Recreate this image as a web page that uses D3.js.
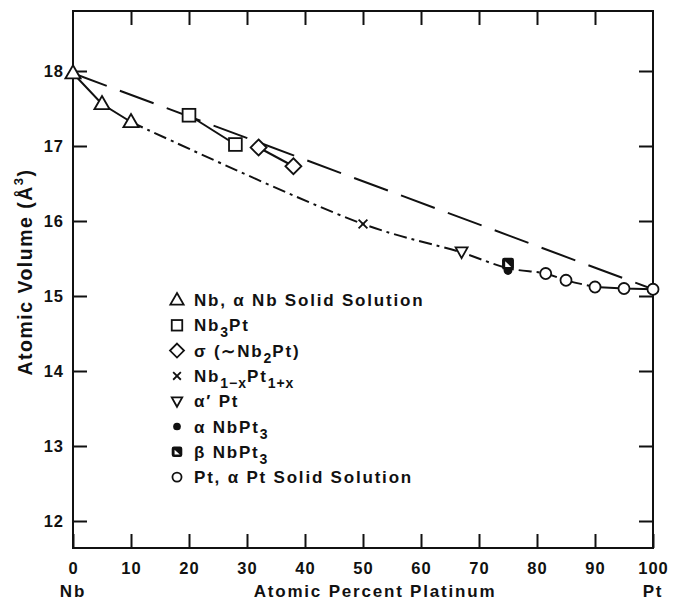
<!DOCTYPE html>
<html>
<head>
<meta charset="utf-8">
<script src="https://cdn.jsdelivr.net/npm/d3@7"></script>
<style>
  body { margin: 0; background: #fff; }
  svg { font-family: "Liberation Sans", Arial, sans-serif; font-weight: bold; }
</style>
</head>
<body>
<svg id="chart" width="682" height="606"></svg>
<script>
// data (x = at.% Pt, y = atomic volume in Å^3)
const nbSolid = [[0, 17.97], [5, 17.56], [10, 17.32]];
const nb3Pt = [[20, 17.41], [28, 17.02]];
const sigma = [[32, 16.98], [38, 16.73]];
const nb1xPt = [[50, 15.96]];
const alphaPrimePt = [[67, 15.59]];
const alphaNbPt3 = [[75, 15.34]];
const betaNbPt3 = [[75, 15.43]];
const ptSolid = [[81.5, 15.3], [85, 15.21], [90, 15.12], [95, 15.1], [100, 15.09]];

// curves drawn through the points
const vegard = [[0, 17.97], [100, 15.09]];
const dashDotCurve = [[10, 17.32], [50, 15.96], [67, 15.58], [75, 15.37], [81.5, 15.3], [85, 15.21], [90, 15.12]];
const solidEnd = [[90, 15.12], [95, 15.1], [100, 15.09]];

const xTicks = [0, 10, 20, 30, 40, 50, 60, 70, 80, 90, 100];
const yTicks = [12, 13, 14, 15, 16, 17, 18];

const legendItems = [
    { sym: 'tri', label: 'Nb, α Nb Solid Solution' },
    { sym: 'sq', label: 'Nb<sub>3</sub>Pt' },
    { sym: 'dia', label: 'σ (∼Nb<sub>2</sub>Pt)' },
    { sym: 'x', label: 'Nb<sub>1−x</sub>Pt<sub>1+x</sub>' },
    { sym: 'dtri', label: 'α′ Pt' },
    { sym: 'dot', label: 'α NbPt<sub>3</sub>' },
    { sym: 'half', label: 'β NbPt<sub>3</sub>' },
    { sym: 'circ', label: 'Pt, α Pt Solid Solution' },
];

const svg = d3.select('#chart');
const plotLeft = 73, plotRight = 653, plotTop = 11, plotBottom = 548;

const xs = d3.scaleLinear().domain([0, 100]).range([plotLeft, plotRight]);
const ys = d3.scaleLinear().domain([12, 18]).range([521, 71]);

// frame
svg.append('rect')
    .attr('x', plotLeft).attr('y', plotTop)
    .attr('width', plotRight - plotLeft).attr('height', plotBottom - plotTop)
    .attr('fill', 'none').attr('stroke', '#111').attr('stroke-width', 2);

const styleAxis = (g) => {
    g.select('.domain').remove();
    g.attr('font-size', null).attr('font-family', null);
    g.selectAll('line').attr('stroke', '#111').attr('stroke-width', 2);
    g.selectAll('text').attr('fill', '#111')
        .style('font-size', '16.5px').style('font-weight', 'bold').style('letter-spacing', '1px');
};

svg.append('g').attr('transform', `translate(0,${plotBottom})`)
    .call(d3.axisBottom(xs).tickValues(xTicks).tickSize(-14).tickPadding(14).tickFormat(d3.format('d')))
    .call(styleAxis);
svg.append('g').attr('transform', `translate(0,${plotTop})`)
    .call(d3.axisTop(xs).tickValues(xTicks.slice(1, -1)).tickSize(-14).tickFormat(''))
    .call(styleAxis);
svg.append('g').attr('transform', `translate(${plotLeft},0)`)
    .call(d3.axisLeft(ys).tickValues(yTicks).tickSize(-14).tickPadding(9).tickFormat(d3.format('d')))
    .call(styleAxis);
svg.append('g').attr('transform', `translate(${plotRight},0)`)
    .call(d3.axisRight(ys).tickValues(yTicks).tickSize(-14).tickFormat(''))
    .call(styleAxis);

// axis titles
const titleStyle = (t) => t.style('font-size', '17px').style('letter-spacing', '1.8px').attr('fill', '#111');
svg.append('text').attr('x', xs(0)).attr('y', 597).attr('text-anchor', 'middle').call(titleStyle).text('Nb');
svg.append('text').attr('x', xs(100)).attr('y', 597).attr('text-anchor', 'middle').call(titleStyle).text('Pt');
svg.append('text').attr('x', 375).attr('y', 597).attr('text-anchor', 'middle').call(titleStyle)
    .text('Atomic Percent Platinum');
const yt = svg.append('text').attr('transform', 'translate(32,272) rotate(-90)')
    .attr('text-anchor', 'middle').call(titleStyle)
    .style('font-size', '19.5px').style('letter-spacing', '1.5px');
yt.append('tspan').text('Atomic Volume (Å');
yt.append('tspan').attr('dy', -9).style('font-size', '13px').text('3');
yt.append('tspan').attr('dy', 9).text(')');

// lines
const line = d3.line().x(d => xs(d[0])).y(d => ys(d[1]));
const curve = d3.line().x(d => xs(d[0])).y(d => ys(d[1])).curve(d3.curveCatmullRom);
const plotLine = (data, gen, dash) => svg.append('path').datum(data)
    .attr('d', gen).attr('fill', 'none').attr('stroke', '#111').attr('stroke-width', 2)
    .attr('stroke-dasharray', dash || null);

plotLine(vegard, line, '36,14');
plotLine(dashDotCurve, curve, '13,5,3,5');
plotLine(nbSolid, line);
plotLine(solidEnd, line);
plotLine(nb3Pt, line);
plotLine(sigma, line);

// symbols
const drawSym = (g, sym, s) => {
    const st = (sel) => sel.attr('stroke', '#111').attr('stroke-width', 1.8).attr('fill', '#fff');
    if (sym === 'tri') st(g.append('path').attr('d', `M0,${-s}L${s * 0.95},${s * 0.65}L${-s * 0.95},${s * 0.65}Z`));
    if (sym === 'dtri') st(g.append('path').attr('d', `M0,${s * 0.8}L${s * 0.75},${-s * 0.55}L${-s * 0.75},${-s * 0.55}Z`));
    if (sym === 'sq') st(g.append('rect').attr('x', -s * 0.75).attr('y', -s * 0.75).attr('width', s * 1.5).attr('height', s * 1.5));
    if (sym === 'dia') st(g.append('path').attr('d', `M0,${-s}L${s},0L0,${s}L${-s},0Z`));
    if (sym === 'circ') st(g.append('circle').attr('r', s * 0.65));
    if (sym === 'dot') g.append('circle').attr('r', s * 0.55).attr('fill', '#111');
    if (sym === 'x') g.append('path').attr('d', `M${-s * 0.55},${-s * 0.55}L${s * 0.55},${s * 0.55}M${s * 0.55},${-s * 0.55}L${-s * 0.55},${s * 0.55}`)
        .attr('stroke', '#111').attr('stroke-width', 1.8);
    if (sym === 'half') {
        g.append('rect').attr('x', -s * 0.65).attr('y', -s * 0.65).attr('width', s * 1.3).attr('height', s * 1.3)
            .attr('rx', 1.5).attr('fill', '#111').attr('stroke', '#111').attr('stroke-width', 1.5);
        g.append('path').attr('d', `M${-s * 0.35},${s * 0.4}L${s * 0.4},${s * 0.4}L${-s * 0.35},${-s * 0.3}Z`).attr('fill', '#fff');
    }
};

const series = [
    [nbSolid, 'tri', 8], [nb3Pt, 'sq', 8.5], [sigma, 'dia', 8], [nb1xPt, 'x', 8],
    [alphaPrimePt, 'dtri', 8], [alphaNbPt3, 'dot', 8], [betaNbPt3, 'half', 8], [ptSolid, 'circ', 8.5],
];
series.forEach(([data, sym, size]) => {
    data.forEach(d => drawSym(svg.append('g').attr('transform', `translate(${xs(d[0])},${ys(d[1])})`), sym, size));
});

// legend
const lg = svg.append('g');
legendItems.forEach((item, i) => {
    const yy = 300 + i * 25.3;
    drawSym(lg.append('g').attr('transform', `translate(177,${yy})`), item.sym, 7);
    const t = lg.append('text').attr('x', 194).attr('y', yy + 6).call(titleStyle);
    // split on <sub> tags for subscripts
    const parts = item.label.split(/(<sub>.*?<\/sub>)/).filter(p => p);
    let sub = false;
    parts.forEach(p => {
        const m = p.match(/<sub>(.*?)<\/sub>/);
        if (m) {
            t.append('tspan').attr('dy', sub ? 0 : 6).style('font-size', '14px').style('letter-spacing', '1px').text(m[1]);
            sub = true;
        } else {
            t.append('tspan').attr('dy', sub ? -6 : 0).text(p);
            sub = false;
        }
    });
});
</script>
</body>
</html>
